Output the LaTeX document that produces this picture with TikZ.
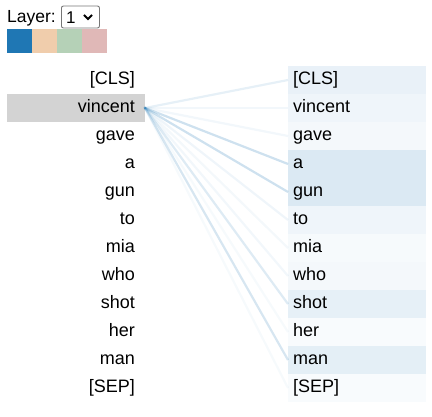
\documentclass[tikz,border=0pt]{standalone}
\usepackage{fontspec}
\setmainfont{Liberation Sans}
\definecolor{attn}{RGB}{31,119,180}
\definecolor{hlgray}{RGB}{211,211,211}
\definecolor{selborder}{RGB}{118,118,118}
\definecolor{peach}{RGB}{240,205,172}
\definecolor{sage}{RGB}{181,209,183}
\definecolor{rose}{RGB}{224,184,183}
\begin{document}
\begin{tikzpicture}[x=1pt,y=-1pt,
  tok/.style={font=\fontsize{18}{20}\selectfont, inner sep=0pt, text height=13pt, text depth=4pt},
  lbox/.style={tok, minimum width=138pt, minimum height=28pt, anchor=east, text width=118pt, align=right},
  rbox/.style={tok, minimum width=138pt, minimum height=28pt, anchor=west, text width=128pt, align=left},
  att/.style={draw=attn, line width=2.2pt, draw opacity=#1},
  sw/.style={minimum width=25pt, minimum height=24pt, inner sep=0pt, anchor=north west}]
\useasboundingbox (0,0) rectangle (432,417);
% header
\node[anchor=west, font=\fontsize{17.5}{20}\selectfont, inner sep=0pt] (layer) at (7,18) {Layer:};
\node[draw=selborder, rounded corners=2pt, line width=0.9pt, minimum width=38pt, minimum height=22pt, inner sep=0pt, anchor=west] (sel) at (61,17) {};
\node[font=\fontsize{17}{20}\selectfont, inner sep=0pt, anchor=west] (one) at (66,18) {1};
\coordinate (chev) at (88,17);
\draw[line width=1.8pt] ([xshift=-4pt,yshift=2pt]chev) -- ([yshift=-2pt]chev) -- ([xshift=4pt,yshift=2pt]chev);
\node[sw, fill=attn] (c1) at (7,29) {};
\node[sw, fill=peach] (c2) at (32,29) {};
\node[sw, fill=sage] (c3) at (57,29) {};
\node[sw, fill=rose] (c4) at (82,29) {};
% tokens
\foreach \t [count=\i from 0] in {[CLS],vincent,gave,a,gun,to,mia,who,shot,her,man,[SEP]} {
  \node[lbox] (l\i) at (145,80+28*\i) {\t};
}
\node[lbox, fill=hlgray] (l1) at (145,108) {vincent};
\foreach \t/\w [count=\i from 0] in {[CLS]/10,vincent/7,gave/5,a/16,gun/16,to/7,mia/4,who/5,shot/11,her/3,man/12,[SEP]/3} {
  \node[rbox, fill=attn!\w!white] (r\i) at (288,80+28*\i) {\t};
}
% connectors
\foreach \w [count=\i from 0] in {0.11,0.06,0.06,0.22,0.22,0.07,0.05,0.06,0.15,0.04,0.18,0.04} {
  \draw[att=\w] (l1.east) -- (r\i.west);
}
\fill[attn, opacity=0.6] (l1.east) circle (1.5pt);
\end{tikzpicture}
\end{document}
